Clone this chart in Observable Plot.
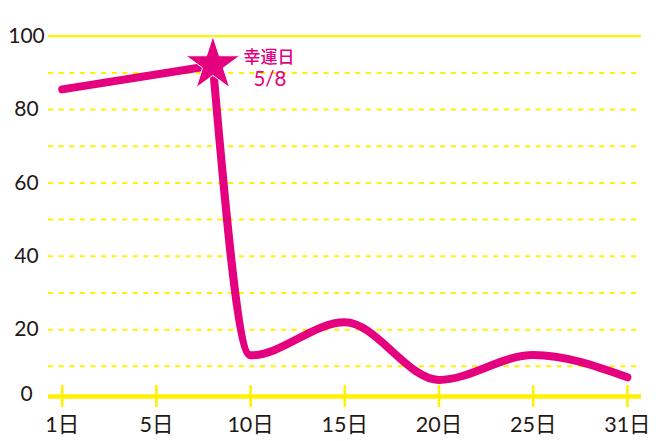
<!DOCTYPE html>
<html>
<head>
<meta charset="utf-8">
<script src="https://cdn.jsdelivr.net/npm/d3@7"></script>
<script src="https://cdn.jsdelivr.net/npm/@observablehq/plot@0.6"></script>
<style>
  html, body { margin: 0; padding: 0; background: #ffffff; }
  #chart svg { display: block; }
</style>
</head>
<body>
<div id="chart"></div>
<script>
// ---- data ----
const days = [1, 8, 10, 15, 20, 25, 31];
const values = [85.5, 92, 13, 22, 6.3, 13.1, 7];
const xTicks = [1, 5, 10, 15, 20, 25, 31];
const xTickLabels = ["1日", "5日", "10日", "15日", "20日", "25日", "31日"];
const yTicks = [20, 40, 60, 80, 100];
const yZero = [0];
const gridLines = [10, 20, 30, 40, 50, 60, 70, 80, 90];
const topLine = [100];
const luckyDay = 8;
const luckyValue = 92;
const luckyTitle = "幸運日";
const luckyDate = "5/8";

// ---- styles ----
const YELLOW = "#FFF100";
const MAGENTA = "#E4007F";
const INK = "#231815";
const FONT = "Lato, 'Noto Sans CJK JP', sans-serif";

const points = days.map((d, i) => ({day: d, value: values[i]}));
const luckyIndex = days.indexOf(luckyDay);
const rise = points.slice(0, luckyIndex + 1);
const rest = points.slice(luckyIndex);
const lucky = [{day: luckyDay, value: luckyValue}];

const chart = Plot.plot({
  width: 660,
  height: 441,
  marginLeft: 48,
  marginRight: 19,
  marginTop: 0,
  marginBottom: 0,
  style: {fontFamily: FONT, background: "#ffffff", overflow: "visible"},
  x: {type: "linear", domain: xTicks, range: xTicks.map((d, i) => 61.7 + i * 94.2), axis: null},
  y: {domain: [0, 100], range: [402.5, 35.7], axis: null},
  marks: [
    Plot.ruleY(gridLines, {stroke: YELLOW, strokeWidth: 2, strokeDasharray: "5,5.6"}),
    Plot.ruleY(topLine, {stroke: YELLOW, strokeWidth: 2.3}),
    Plot.ruleY(yZero, {stroke: YELLOW, strokeWidth: 4.5, dy: -6.5}),
    Plot.ruleX(xTicks, {x: d => d, stroke: YELLOW, strokeWidth: 2.6, insetTop: 385, insetBottom: 34}),
    Plot.text(yTicks, {y: d => d, text: d => String(d), frameAnchor: "left", dx: -22, textAnchor: "middle", fill: INK, fontSize: 21}),
    Plot.text(yZero, {y: d => d, text: d => String(d), frameAnchor: "left", dx: -22, dy: -8.5, textAnchor: "middle", fill: INK, fontSize: 21}),
    Plot.text(xTicks, {x: d => d, text: (d, i) => xTickLabels[i], frameAnchor: "bottom", dy: -16.5, lineAnchor: "middle", textAnchor: "middle", fill: INK, fontSize: 21.5, letterSpacing: "1.5px"}),
    Plot.line(rise, {x: "day", y: "value", stroke: MAGENTA, strokeWidth: 8, strokeLinecap: "round", strokeLinejoin: "round"}),
    Plot.line(rest, {x: "day", y: "value", stroke: MAGENTA, strokeWidth: 8, strokeLinecap: "round", strokeLinejoin: "round", curve: "monotone-x"}),
    Plot.dot(lucky, {x: "day", y: "value", symbol: "star", r: 17, fill: MAGENTA, stroke: "#ffffff", strokeWidth: 1, dy: -1}),
    Plot.text(lucky, {x: "day", y: "value", text: () => luckyTitle, dx: 56, dy: -8.3, fill: MAGENTA, fontSize: 17, fontWeight: 500, lineAnchor: "middle"}),
    Plot.text(lucky, {x: "day", y: "value", text: () => luckyDate, dx: 57, dy: 14.3, fill: MAGENTA, fontSize: 20.5, lineAnchor: "middle"})
  ]
});
document.getElementById("chart").appendChild(chart);
</script>
</body>
</html>
